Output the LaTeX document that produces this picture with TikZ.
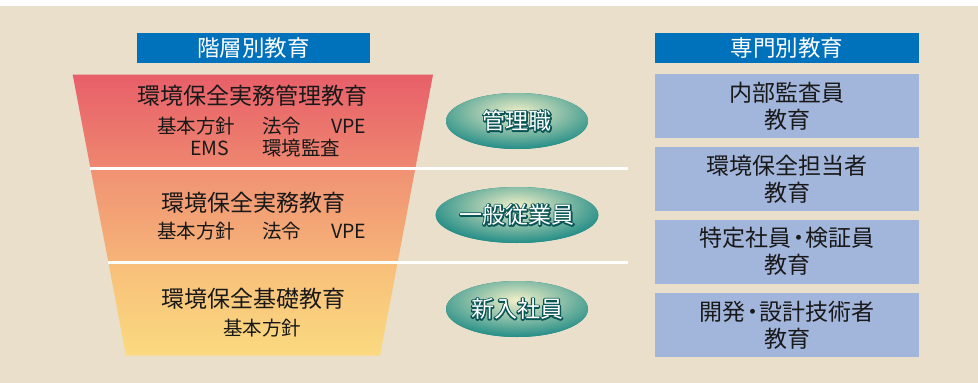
\documentclass[tikz,border=0pt]{standalone}
\usepackage{fontspec}
\setmainfont{Noto Sans CJK JP}
\usetikzlibrary{shapes.geometric}
\definecolor{bg}{RGB}{233,223,203}
\definecolor{hdr}{RGB}{0,113,187}
\definecolor{boxb}{RGB}{162,181,219}
\definecolor{tealm}{RGB}{8,128,126}
\definecolor{teald}{RGB}{10,85,85}
\definecolor{hl}{RGB}{242,240,200}
\definecolor{txt}{RGB}{25,25,25}
\definecolor{ra}{RGB}{232,95,105}
\definecolor{rb}{RGB}{238,135,112}
\definecolor{rc}{RGB}{240,145,115}
\definecolor{rd}{RGB}{246,180,120}
\definecolor{re}{RGB}{248,190,122}
\definecolor{rf}{RGB}{250,218,128}
% dark teal halo (stroked copy) under white text
\newcommand\outl[1]{{\setbox0\hbox{#1}%
\rlap{\color{teald}\special{pdf:literal direct 2.6 w 1 j 2 Tr}\copy0\special{pdf:literal direct 0 Tr}}%
{\color{white}\copy0}}}
\newcommand\ndot{\kern-4.5pt・\kern-4.5pt}
\tikzset{
  big/.style={font=\fontsize{23}{27}\selectfont, text=txt, inner sep=0pt, align=center},
  small/.style={font=\fontsize{19.5}{22}\selectfont, text=txt, inner sep=0pt},
  hdrbox/.style={fill=hdr, minimum height=30pt, inner sep=0pt, text=white, font=\fontsize{22.5}{26}\selectfont},
  catbox/.style={fill=boxb, minimum width=264pt, minimum height=64pt, inner sep=0pt, big},
  lvl/.style={ellipse, minimum width=142pt, minimum height=56pt, inner sep=0pt, fill=tealm,
     font=\fontsize{23}{27}\selectfont,
     path picture={\shade[inner color=hl, outer color=tealm]
        ([yshift=9pt]path picture bounding box.center) ellipse (104pt and 42pt);}},
  sep/.style={white, line width=3pt}
}
\begin{document}
\begin{tikzpicture}[x=1pt,y=-1pt]
\fill[white] (0,0) rectangle (978,383);
\fill[bg] (0,6) rectangle (978,383);
\useasboundingbox (0,0) rectangle (978,383);
% trapezoid sections
\shade[top color=ra, bottom color=rb] (72.7,74.7) -- (433,74.7) -- (415.4,168) -- (90.4,168) -- cycle;
\shade[top color=rc, bottom color=rd] (90.4,168) -- (415.4,168) -- (397.7,262) -- (108.3,262) -- cycle;
\shade[top color=re, bottom color=rf] (108.3,262) -- (397.7,262) -- (380,355.7) -- (126,355.7) -- cycle;
\coordinate (l1a) at (90.4,168);
\coordinate (l1b) at (628,168);
\coordinate (l2a) at (108.3,262);
\coordinate (l2b) at (628,262);
\draw[sep] (l1a) -- (l1b);
\draw[sep] (l2a) -- (l2b);
% headers
\node[hdrbox, minimum width=233pt] (hl) at (253.5,48) {階層別教育};
\node[hdrbox, minimum width=264pt] (hr) at (787,48) {専門別教育};
% level 1
\node[big] (t1) at (252,96) {環境保全実務管理教育};
\node[small, anchor=west] (t1a) at (157,126) {基本方針};
\node[small, anchor=west] (t1b) at (262,126) {法令};
\node[small, anchor=west] (t1c) at (331,126) {VPE};
\node[small, anchor=west] (t1d) at (190,148) {EMS};
\node[small, anchor=west] (t1e) at (262,148) {環境監査};
% level 2
\node[big] (t2) at (253,203) {環境保全実務教育};
\node[small, anchor=west] (t2a) at (157,231) {基本方針};
\node[small, anchor=west] (t2b) at (262,231) {法令};
\node[small, anchor=west] (t2c) at (331,231) {VPE};
% level 3
\node[big] (t3) at (253,299) {環境保全基礎教育};
\node[small] (t3a) at (262,328) {基本方針};
% ellipses
\node[lvl] (e1) at (517,121) {\outl{管理職}};
\node[lvl] (e2) at (517,215) {\outl{一般従業員}};
\node[lvl] (e3) at (517,309) {\outl{新入社員}};
% right boxes
\node[catbox] (b1) at (787,106) {内部監査員\\教育};
\node[catbox] (b2) at (787,179) {環境保全担当者\\教育};
\node[catbox] (b3) at (787,251.5) {特定社員\ndot 検証員\\教育};
\node[catbox] (b4) at (787,325) {開発\ndot 設計技術者\\教育};
\end{tikzpicture}
\end{document}
